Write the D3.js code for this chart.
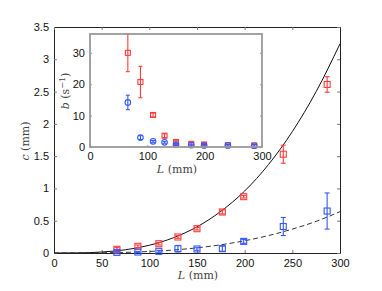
<!DOCTYPE html>
<html>
<head>
<meta charset="utf-8">
<script src="https://cdn.jsdelivr.net/npm/d3@7"></script>
<style>
  body { margin: 0; background: #fff; }
  svg text { font-family: "Liberation Sans", Arial, sans-serif; }
  .lab { font-family: "DejaVu Serif", "Liberation Serif", serif; fill: #444; }
</style>
</head>
<body>
<svg width="382" height="291"></svg>
<script>
// main plot: c vs L
const L = [66, 88, 110, 130, 150, 176.6, 199, 240.5, 286.5];
const cRed = [0.057, 0.104, 0.144, 0.248, 0.376, 0.635, 0.872, 1.53, 2.61];
const cRedErr = [0.03, 0.02, 0.02, 0.02, 0.02, 0.03, 0.02, 0.14, 0.12];
const cBlue = [0.01, 0.015, 0.026, 0.067, 0.062, 0.067, 0.18, 0.41, 0.65];
const cBlueErr = [0.02, 0.01, 0.015, 0.05, 0.02, 0.04, 0.03, 0.14, 0.28];

// fitted curves
const fitL = [0, 25, 50, 75, 100, 125, 150, 175, 200, 225, 250, 275, 300];
const fitSolid = [0, 0.002, 0.015, 0.05, 0.12, 0.235, 0.405, 0.645, 0.96, 1.37, 1.88, 2.5, 3.24];
const fitDashed = [0, 0.0004, 0.003, 0.01, 0.024, 0.046, 0.08, 0.127, 0.19, 0.27, 0.37, 0.49, 0.64];

// inset: b vs L
const bRed = [30.0, 20.7, 10.2, 3.6, 1.6, 1.0, 0.8, 0.6, 0.5];
const bRedErr = [6, 5, 0.6, 0.6, 0.4, 0.4, 0.3, 0.3, 0.3];
const bBlue = [14.2, 3.0, 1.8, 1.5, 0.75, 0.6, 0.5, 0.5, 0.4];
const bBlueErr = [2.3, 0.6, 0.3, 0.3, 0.3, 0.3, 0.3, 0.3, 0.3];

const xTicks = [0, 50, 100, 150, 200, 250, 300];
const yTicks = [0, 0.5, 1, 1.5, 2, 2.5, 3, 3.5];
const inXTicks = [0, 100, 200, 300];
const inYTicks = [0, 10, 20, 30];

const RED = "#ff3b3b", BLUE = "#3358ff";
const svg = d3.select("svg");
const fmt = d => String(d);

// ---- main axes
const m = {l: 54, r: 340, t: 27, b: 253};
const x = d3.scaleLinear().domain([0, 300]).range([m.l, m.r]);
const y = d3.scaleLinear().domain([0, 3.5]).range([m.b, m.t]);

svg.append("g").attr("transform", `translate(0,${m.b})`)
   .call(d3.axisBottom(x).tickValues(xTicks).tickFormat(fmt).tickSizeInner(-3).tickSizeOuter(0).tickPadding(6));
svg.append("g").attr("transform", `translate(${m.l},0)`)
   .call(d3.axisLeft(y).tickValues(yTicks).tickFormat(fmt).tickSizeInner(-3).tickSizeOuter(0).tickPadding(5));
svg.append("g").attr("transform", `translate(0,${m.t})`)
   .call(d3.axisTop(x).tickValues(xTicks).tickSizeInner(-3).tickSizeOuter(0).tickFormat(""));
svg.append("g").attr("transform", `translate(${m.r},0)`)
   .call(d3.axisRight(y).tickValues(yTicks).tickSizeInner(-3).tickSizeOuter(0).tickFormat(""));
svg.selectAll(".tick line").attr("stroke", "#777");
svg.selectAll(".domain").attr("stroke", "#222");
svg.selectAll(".tick text").attr("font-size", 11).attr("fill", "#111");

const line = d3.line().x(d => x(d[0])).y(d => y(d[1])).curve(d3.curveMonotoneX);
svg.append("path").datum(fitL.map((l, i) => [l, fitSolid[i]]))
   .attr("d", line).attr("fill", "none").attr("stroke", "#111").attr("stroke-width", 1);
svg.append("path").datum(fitL.map((l, i) => [l, fitDashed[i]]))
   .attr("d", line).attr("fill", "none").attr("stroke", "#333").attr("stroke-width", 1)
   .attr("stroke-dasharray", "5,3");

function errorBars(g, xs, ys, es, sx, sy, color, cap) {
  const eb = g.append("g").attr("stroke", color).attr("stroke-width", 1.1);
  xs.forEach((l, i) => {
    const cx = sx(l), y0 = sy(ys[i] - es[i]), y1 = sy(ys[i] + es[i]);
    eb.append("line").attr("x1", cx).attr("x2", cx).attr("y1", y0).attr("y2", y1);
    eb.append("line").attr("x1", cx - cap).attr("x2", cx + cap).attr("y1", y0).attr("y2", y0);
    eb.append("line").attr("x1", cx - cap).attr("x2", cx + cap).attr("y1", y1).attr("y2", y1);
  });
}
function squares(g, xs, ys, sx, sy, color, s) {
  g.append("g").selectAll("rect").data(xs).join("rect")
   .attr("x", (d) => sx(d) - s / 2).attr("y", (d, i) => sy(ys[i]) - s / 2)
   .attr("width", s).attr("height", s)
   .attr("fill", "none").attr("stroke", color).attr("stroke-width", 1.1);
}

errorBars(svg, L, cRed, cRedErr, x, y, RED, 2.5);
squares(svg, L, cRed, x, y, RED, 6);
errorBars(svg, L, cBlue, cBlueErr, x, y, BLUE, 2.5);
squares(svg, L, cBlue, x, y, BLUE, 6);

// labels
svg.append("text").attr("class", "lab").attr("x", 198).attr("y", 279)
   .attr("text-anchor", "middle").attr("font-size", 11)
   .html('<tspan font-style="italic">L</tspan> (mm)');
svg.append("text").attr("class", "lab").attr("transform", "translate(29,141) rotate(-90)")
   .attr("text-anchor", "middle").attr("font-size", 11)
   .html('<tspan font-style="italic">c</tspan> (mm)');

// ---- inset
const n = {l: 90, r: 262, t: 34, b: 147};
const ix = d3.scaleLinear().domain([0, 300]).range([n.l, n.r]);
const iy = d3.scaleLinear().domain([0, 36]).range([n.b, n.t]);
const inset = svg.append("g");
inset.append("rect").attr("x", n.l).attr("y", n.t).attr("width", n.r - n.l).attr("height", n.b - n.t)
     .attr("fill", "#fff");

inset.append("g").attr("transform", `translate(0,${n.b})`)
     .call(d3.axisBottom(ix).tickValues(inXTicks).tickFormat(fmt).tickSizeInner(-2).tickSizeOuter(0).tickPadding(5));
inset.append("g").attr("transform", `translate(${n.l},0)`)
     .call(d3.axisLeft(iy).tickValues(inYTicks).tickFormat(fmt).tickSizeInner(-2).tickSizeOuter(0).tickPadding(5));
inset.append("g").attr("transform", `translate(${n.r},0)`)
     .call(d3.axisRight(iy).tickValues(inYTicks).tickSizeInner(-2).tickSizeOuter(0).tickFormat(""));
inset.selectAll(".domain").remove();
inset.selectAll(".tick line").attr("stroke", "#999");
inset.selectAll(".tick text").attr("font-size", 11).attr("fill", "#111");

errorBars(inset, L, bRed, bRedErr, ix, iy, RED, 2);
squares(inset, L, bRed, ix, iy, RED, 5);
errorBars(inset, L, bBlue, bBlueErr, ix, iy, BLUE, 2);
inset.append("g").selectAll("circle").data(L).join("circle")
     .attr("cx", d => ix(d)).attr("cy", (d, i) => iy(bBlue[i])).attr("r", 2.8)
     .attr("fill", "none").attr("stroke", BLUE).attr("stroke-width", 1.1);

inset.append("rect").attr("x", n.l).attr("y", n.t).attr("width", n.r - n.l).attr("height", n.b - n.t)
     .attr("fill", "none").attr("stroke", "#999").attr("stroke-width", 1.8);

inset.append("text").attr("class", "lab").attr("x", 177).attr("y", 173)
     .attr("text-anchor", "middle").attr("font-size", 11)
     .html('<tspan font-style="italic">L</tspan> (mm)');
inset.append("text").attr("class", "lab").attr("transform", "translate(69,91) rotate(-90)")
     .attr("text-anchor", "middle").attr("font-size", 11)
     .html('<tspan font-style="italic">b</tspan> (s<tspan dy="-4" font-size="8">−1</tspan><tspan dy="4">)</tspan>');
</script>
</body>
</html>
